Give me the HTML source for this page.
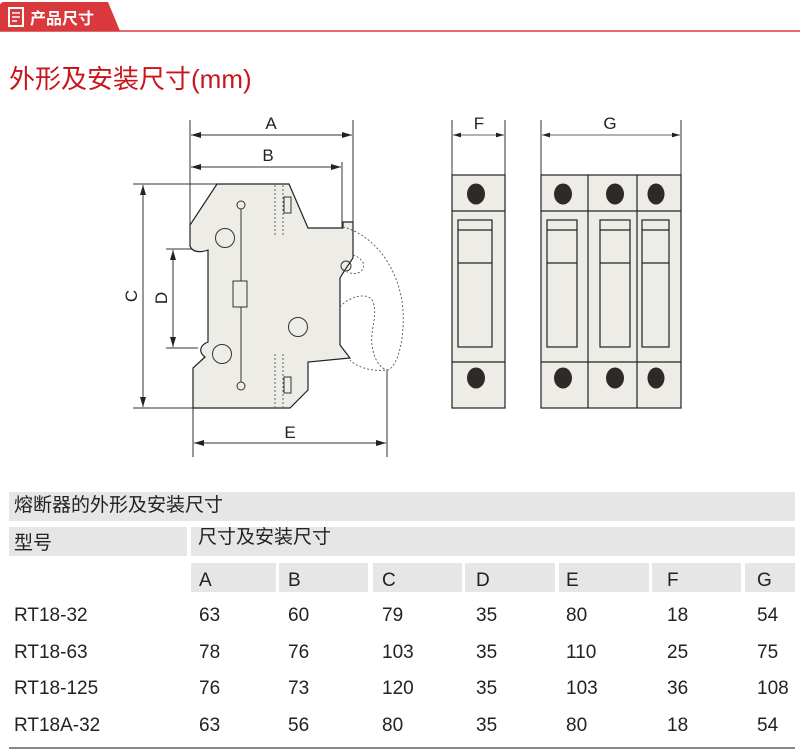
<!DOCTYPE html>
<html><head><meta charset="utf-8"><style>
body{margin:0;width:800px;height:750px;background:#fff;position:relative;overflow:hidden;font-family:"Liberation Sans","Noto Sans CJK SC",sans-serif;}
.a{position:absolute;white-space:nowrap;}
.g{position:absolute;background:#e6e6e6;}
.t{position:absolute;font-size:19px;color:#222;line-height:20px;}
</style></head><body>
<svg class="a" style="left:0;top:0" width="800" height="470">
<defs><marker id="ar" viewBox="0 0 10 6" refX="10" refY="3" markerWidth="10" markerHeight="6" orient="auto-start-reverse"><path d="M0,0L10,3L0,6Z" fill="#222"/></marker></defs>
<path d="M4,2 L108,2 L120,31 L0,31 L0,6 Q0,2 4,2Z" fill="#d9393c"/>
<line x1="0" y1="31" x2="800" y2="31" stroke="#d9393c" stroke-width="1.5"/>
<rect x="9" y="8" width="14" height="18" fill="none" stroke="#fff" stroke-width="2"/>
<line x1="12" y1="13" x2="20" y2="13" stroke="#fff" stroke-width="1.5"/><line x1="12" y1="17" x2="20" y2="17" stroke="#fff" stroke-width="1.5"/><line x1="12" y1="21" x2="17" y2="21" stroke="#fff" stroke-width="1.5"/>
<text x="30" y="24" fill="#fff" font-size="16" font-weight="bold" font-family="Noto Sans CJK SC,sans-serif">产品尺寸</text>
<text x="9" y="88" fill="#c8161d" font-size="26" font-family="Liberation Sans,Noto Sans CJK SC,sans-serif">外形及安装尺寸(mm)</text>
<g stroke="#333" stroke-width="1" fill="none">
<line x1="190" y1="120" x2="190" y2="228"/><line x1="353" y1="120" x2="353" y2="222"/><line x1="342" y1="162" x2="342" y2="228"/>
<line x1="191" y1="135" x2="352" y2="135" marker-start="url(#ar)" marker-end="url(#ar)"/>
<line x1="191" y1="167" x2="341" y2="167" marker-start="url(#ar)" marker-end="url(#ar)"/>
<line x1="133" y1="184" x2="217" y2="184"/><line x1="133" y1="408" x2="193" y2="408"/>
<line x1="143" y1="185" x2="143" y2="407" marker-start="url(#ar)" marker-end="url(#ar)"/>
<line x1="166" y1="249" x2="196" y2="249"/><line x1="166" y1="348" x2="198" y2="348"/>
<line x1="173" y1="250" x2="173" y2="347" marker-start="url(#ar)" marker-end="url(#ar)"/>
<line x1="193" y1="408" x2="193" y2="457"/><line x1="387" y1="370" x2="387" y2="457"/>
<line x1="194" y1="443" x2="386" y2="443" marker-start="url(#ar)" marker-end="url(#ar)"/>
</g>
<g font-size="17" fill="#222" font-family="Liberation Sans,sans-serif" text-anchor="middle">
<text x="271" y="129">A</text><text x="268" y="161">B</text><text x="290" y="438">E</text>
<text transform="translate(137,296) rotate(-90)">C</text><text transform="translate(167,298) rotate(-90)">D</text>
<text x="479" y="129">F</text><text x="610" y="129">G</text>
</g>
<path d="M217,184 L289,184 L308,228 L343,228 L343,222 L353,222 L353,258 L343,273 L340,278 L340,345 L350,358 L308,362 L308,390 L290,408 L193,408 L193,368 L205,357 C198,352 200,345 208,342 L208,250 C200,253 192,252 190,246 L190,225 Z" fill="#edece6" stroke="#222" stroke-width="1.2"/>
<g stroke="#555" stroke-width="0.9" fill="none" stroke-dasharray="2,2">
<line x1="275" y1="185" x2="275" y2="237"/><line x1="283" y1="185" x2="283" y2="237"/>
<line x1="275" y1="354" x2="275" y2="407"/><line x1="283" y1="354" x2="283" y2="407"/>
<path d="M343,227 C375,235 400,270 403,310 C405,345 395,370 387,370 C370,372 355,366 350,360"/>
<path d="M340,307 C350,295 370,292 373,302 C378,315 370,330 372,345 C374,360 380,368 387,370"/>
<path d="M353,255 C362,258 368,266 360,272 C355,275 350,273 347,272"/>
</g>
<g stroke="#333" stroke-width="1" fill="none">
<rect x="284" y="197" width="7" height="16"/><rect x="284" y="377" width="7" height="16"/>
<line x1="241" y1="205" x2="241" y2="386"/>
<circle cx="241" cy="205" r="4" fill="#edece6"/><circle cx="241" cy="386" r="4" fill="#edece6"/>
<rect x="233" y="281" width="14" height="26" fill="#edece6"/>
<circle cx="225" cy="238" r="9.5"/><circle cx="298" cy="327" r="9.5"/><circle cx="222" cy="354" r="9.5"/>
<circle cx="346" cy="266" r="5"/>
<line x1="452" y1="120" x2="452" y2="175"/><line x1="505" y1="120" x2="505" y2="175"/>
<line x1="541" y1="120" x2="541" y2="175"/><line x1="681" y1="120" x2="681" y2="175"/>
</g>
<g stroke="#333" stroke-width="0.8">
<line x1="453" y1="135" x2="504" y2="135" marker-start="url(#ar)" marker-end="url(#ar)"/>
<line x1="542" y1="135" x2="680" y2="135" marker-start="url(#ar)" marker-end="url(#ar)"/>
</g>
<g stroke="#222" stroke-width="1.2" fill="#edece6">
<rect x="452" y="175" width="53" height="233"/><line x1="452" y1="211" x2="505" y2="211"/><line x1="452" y1="362" x2="505" y2="362"/>
<rect x="458" y="220" width="34" height="127" fill="none"/><line x1="458" y1="230" x2="492" y2="230"/><line x1="458" y1="263" x2="492" y2="263"/>
<rect x="541" y="175" width="140" height="233"/>
<line x1="588" y1="175" x2="588" y2="408"/><line x1="637" y1="175" x2="637" y2="408"/>
<line x1="541" y1="211" x2="681" y2="211"/><line x1="541" y1="362" x2="681" y2="362"/>
<rect x="547" y="220" width="30" height="127" fill="none"/><line x1="547" y1="230" x2="577" y2="230"/><line x1="547" y1="263" x2="577" y2="263"/>
<rect x="600" y="220" width="30" height="127" fill="none"/><line x1="600" y1="230" x2="630" y2="230"/><line x1="600" y1="263" x2="630" y2="263"/>
<rect x="642" y="220" width="27" height="127" fill="none"/><line x1="642" y1="230" x2="669" y2="230"/><line x1="642" y1="263" x2="669" y2="263"/>
</g>
<g fill="#2e2a28">
<ellipse cx="476" cy="194" rx="9" ry="10.5"/><ellipse cx="476" cy="378" rx="9" ry="10.5"/>
<ellipse cx="563" cy="194" rx="9" ry="10.5"/><ellipse cx="563" cy="378" rx="9" ry="10.5"/>
<ellipse cx="615" cy="194" rx="9" ry="10.5"/><ellipse cx="615" cy="378" rx="9" ry="10.5"/>
<ellipse cx="656" cy="194" rx="8.5" ry="10.5"/><ellipse cx="656" cy="378" rx="8.5" ry="10.5"/>
</g>
</svg>
<div class="g" style="left:9px;top:492px;width:786px;height:29px"></div>
<div class="t" style="left:14px;top:496px">熔断器的外形及安装尺寸</div>
<div class="g" style="left:9px;top:527px;width:178px;height:29px"></div>
<div class="g" style="left:191px;top:527px;width:604px;height:29px"></div>
<div class="t" style="left:14px;top:534px">型号</div>
<div class="t" style="left:198px;top:528px">尺寸及安装尺寸</div>
<div class="g" style="left:191px;top:563px;width:85px;height:29px"></div>
<div class="g" style="left:279px;top:563px;width:89px;height:29px"></div>
<div class="g" style="left:373px;top:563px;width:89px;height:29px"></div>
<div class="g" style="left:465px;top:563px;width:90px;height:29px"></div>
<div class="g" style="left:559px;top:563px;width:90px;height:29px"></div>
<div class="g" style="left:652px;top:563px;width:89px;height:29px"></div>
<div class="g" style="left:745px;top:563px;width:50px;height:29px"></div>
<div class="t" style="left:199px;top:571px">A</div><div class="t" style="left:288px;top:571px">B</div><div class="t" style="left:382px;top:571px">C</div><div class="t" style="left:476px;top:571px">D</div><div class="t" style="left:566px;top:571px">E</div><div class="t" style="left:667px;top:571px">F</div><div class="t" style="left:757px;top:571px">G</div>
<div class="t" style="left:14px;top:606px">RT18-32</div><div class="t" style="left:199px;top:606px">63</div><div class="t" style="left:288px;top:606px">60</div><div class="t" style="left:382px;top:606px">79</div><div class="t" style="left:476px;top:606px">35</div><div class="t" style="left:566px;top:606px">80</div><div class="t" style="left:667px;top:606px">18</div><div class="t" style="left:757px;top:606px">54</div>
<div class="t" style="left:14px;top:643px">RT18-63</div><div class="t" style="left:199px;top:643px">78</div><div class="t" style="left:288px;top:643px">76</div><div class="t" style="left:382px;top:643px">103</div><div class="t" style="left:476px;top:643px">35</div><div class="t" style="left:566px;top:643px">110</div><div class="t" style="left:667px;top:643px">25</div><div class="t" style="left:757px;top:643px">75</div>
<div class="t" style="left:14px;top:679px">RT18-125</div><div class="t" style="left:199px;top:679px">76</div><div class="t" style="left:288px;top:679px">73</div><div class="t" style="left:382px;top:679px">120</div><div class="t" style="left:476px;top:679px">35</div><div class="t" style="left:566px;top:679px">103</div><div class="t" style="left:667px;top:679px">36</div><div class="t" style="left:757px;top:679px">108</div>
<div class="t" style="left:14px;top:716px">RT18A-32</div><div class="t" style="left:199px;top:716px">63</div><div class="t" style="left:288px;top:716px">56</div><div class="t" style="left:382px;top:716px">80</div><div class="t" style="left:476px;top:716px">35</div><div class="t" style="left:566px;top:716px">80</div><div class="t" style="left:667px;top:716px">18</div><div class="t" style="left:757px;top:716px">54</div>
<div class="a" style="left:9px;top:747px;width:786px;height:2px;background:#888"></div>
</body></html>
